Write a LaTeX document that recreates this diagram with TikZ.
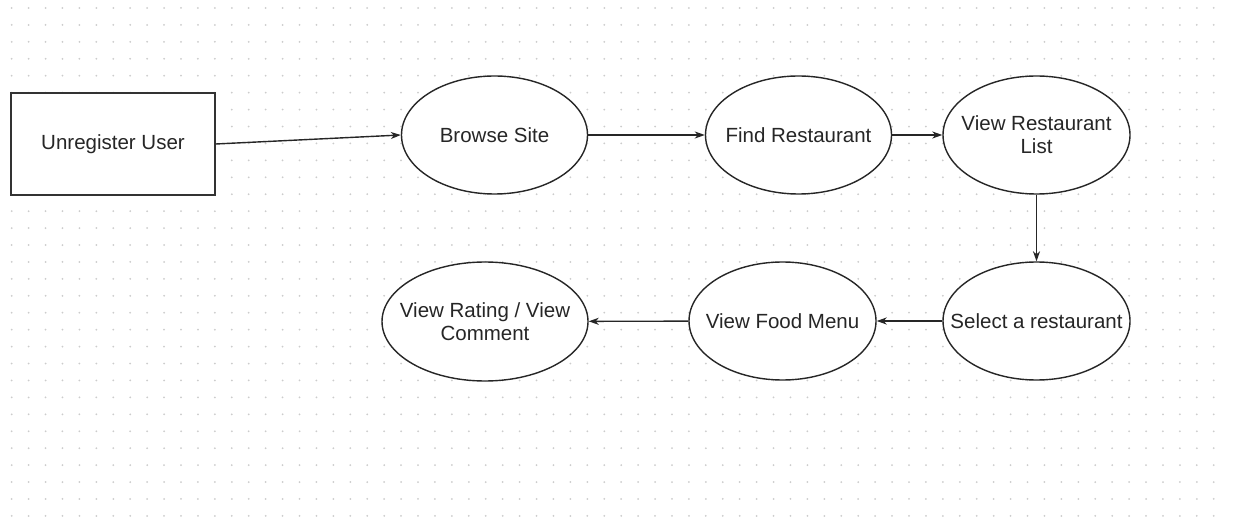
\documentclass[tikz,border=0pt]{standalone}
\usepackage{fontspec}
\setmainfont{Liberation Sans}
\usepackage{xcolor}
\usetikzlibrary{shapes,arrows,arrows.meta}

\begin{document}
\begin{tikzpicture}[x=1pt,y=-1pt,
    gridDot/.style ={fill=black!20},
    case_text/.style ={align=center, text=black!85, inner sep=0pt,
      font=\fontsize{20.5}{23}\selectfont},
    block_user/.style ={rectangle, draw=black!80, line width=1.5pt, fill=white,
      minimum width=204pt, minimum height=102pt, inner sep=0pt,
      text=black!85, font=\fontsize{20.5}{23}\selectfont},
    use_case/.style ={ellipse, draw=black!85, line width=1.4pt, fill=white,
      minimum width=186pt, minimum height=118pt, inner sep=0pt,
      label={[case_text]center:#1}},
    line/.style ={draw, line width=1.4pt, black!85,
      -{Stealth[length=10pt,width=7pt,inset=3pt]}, shorten >=0pt}]
    % page size and dotted grid
    \useasboundingbox (0,0) rectangle (1249,518);
    \fill[white] (0,0) rectangle (1249,518);
    \foreach \i in {0,...,71}
      \foreach \j in {0,...,30}
        \fill[gridDot] (11.7+16.93*\i, 8+16.93*\j) circle (1pt);
    % actor - top left
    \node [block_user] (unregUser) at (113,144) {Unregister User};
    % use cases - row 1
    \node [use_case={Browse Site}] (browseSite) at (494.5,135) {};
    \node [use_case={Find Restaurant}] (findRest) at (798.5,135) {};
    \node [use_case={View Restaurant\\List}, minimum width=187pt] (viewRestList) at (1036.5,135) {};
    % use cases - row 2
    \node [use_case={Select a restaurant}, minimum width=187pt] (selRest) at (1036.5,321) {};
    \node [use_case={View Food Menu}, minimum width=187pt] (foodMenu) at (782.5,321) {};
    \node [use_case={View Rating / View\\Comment}, minimum width=206pt,
      minimum height=119pt] (viewRating) at (485,321.5) {};
    % connecting nodes with paths
    \begin{scope}[every path/.style=line]
      \path (unregUser.east) -- (browseSite.west);
      \path (browseSite) -- (findRest);
      \path (findRest) -- (viewRestList);
      \path (viewRestList) -- (selRest);
      \path (selRest) -- (foodMenu);
      \path (foodMenu) -- (viewRating);
    \end{scope}
  \end{tikzpicture}
\end{document}
